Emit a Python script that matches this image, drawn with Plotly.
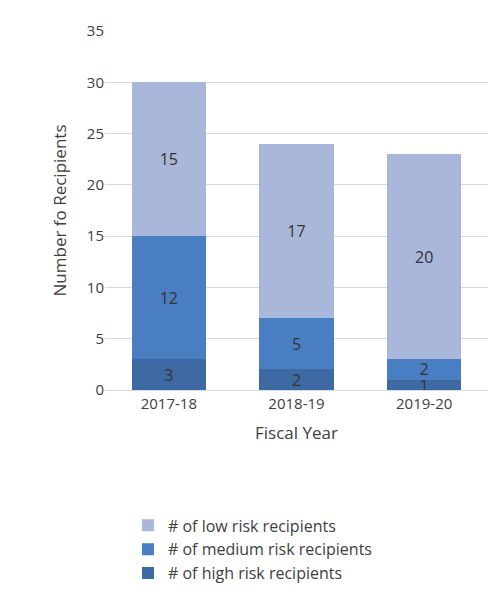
import plotly.graph_objects as go

years = ["2017-18", "2018-19", "2019-20"]
high = [3, 2, 1]
medium = [12, 5, 2]
low = [15, 17, 20]

fig = go.Figure()
series = [("# of high risk recipients", high, "#3d6aa3"),
          ("# of medium risk recipients", medium, "#4a7ec2"),
          ("# of low risk recipients", low, "#a9b8da")]
for name, vals, col in series:
    fig.add_trace(go.Bar(x=years, y=vals, name=name, marker=dict(color=col, line_width=0),
                         text=vals, textposition="inside", insidetextanchor="middle",
                         textangle=0, constraintext="none", cliponaxis=False,
                         textfont=dict(color="#333333", size=16)))

fig.update_layout(
    barmode="stack", bargap=0.42,
    width=500, height=608,
    margin=dict(l=97, r=20, t=14, b=226),
    plot_bgcolor="white", paper_bgcolor="white",
    font=dict(family="Open Sans", size=15, color="#404040"),
    legend=dict(orientation="v", x=0.06, y=-0.33, xanchor="left", yanchor="top",
                traceorder="reversed", font=dict(size=16)),
    xaxis=dict(title=dict(text="Fiscal Year", font=dict(size=17)), showline=True,
               linecolor="#d9d9d9", tickfont=dict(size=15)),
    yaxis=dict(title=dict(text="Number fo Recipients", font=dict(size=17)), range=[0, 35],
               dtick=5, gridcolor="#d9d9d9", zeroline=False, tickfont=dict(size=15)),
)
fig.write_html("out.html")
